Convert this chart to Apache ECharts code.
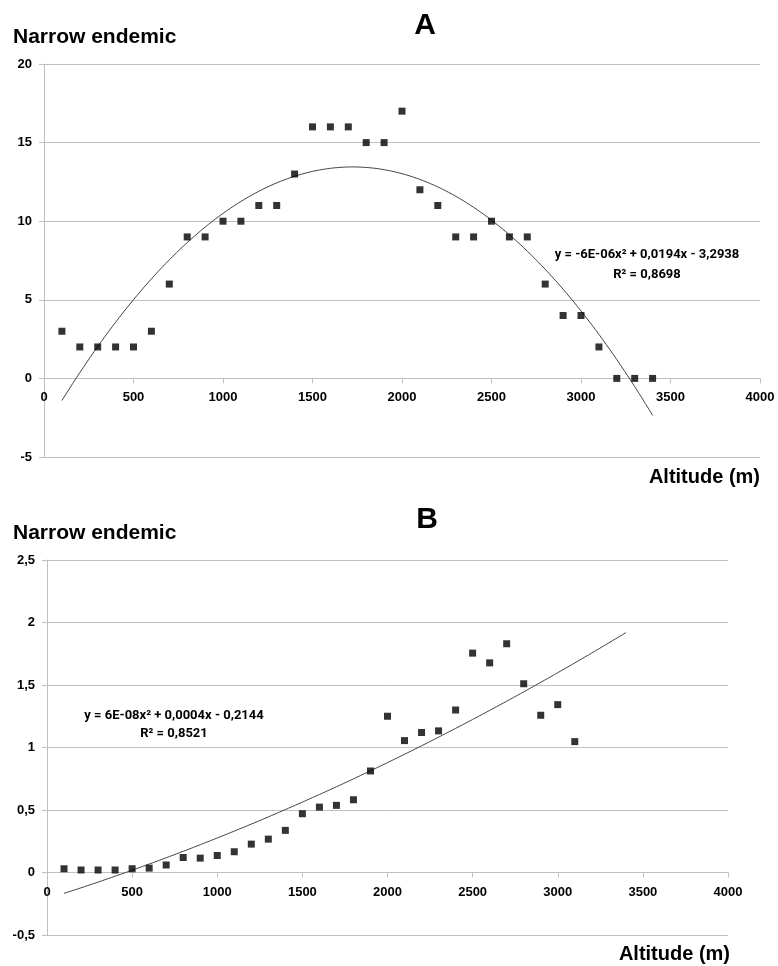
<!DOCTYPE html>
<html>
<head>
<meta charset="utf-8">
<script src="https://cdn.jsdelivr.net/npm/echarts@6/dist/echarts.min.js"></script>
<style>
html,body{margin:0;padding:0;background:#fff;}
#chart{width:778px;height:966px;}
</style>
</head>
<body>
<div id="chart"></div>
<script>
// ---- data ----
const altitudeA = [100,200,300,400,500,600,700,800,900,1000,1100,1200,1300,1400,1500,1600,1700,1800,1900,2000,2100,2200,2300,2400,2500,2600,2700,2800,2900,3000,3100,3200,3300,3400];
const endemicA  = [3,2,2,2,2,3,6,9,9,10,10,11,11,13,16,16,16,15,15,17,12,11,9,9,10,9,9,6,4,4,2,0,0,0];
const altitudeB = [100,200,300,400,500,600,700,800,900,1000,1100,1200,1300,1400,1500,1600,1700,1800,1900,2000,2100,2200,2300,2400,2500,2600,2700,2800,2900,3000,3100];
const endemicB  = [0.03,0.02,0.02,0.02,0.03,0.035,0.06,0.12,0.115,0.136,0.166,0.227,0.267,0.337,0.47,0.523,0.537,0.582,0.812,1.25,1.055,1.12,1.133,1.30,1.755,1.677,1.83,1.51,1.258,1.343,1.047];
const trendRangeA = [100, 3400];
const trendRangeB = [100, 3400];
const equationA = ['y = -6E-06x² + 0,0194x - 3,2938', 'R² = 0,8698'];
const equationB = ['y = 6E-08x² + 0,0004x - 0,2144', 'R² = 0,8521'];
const yAxisA = {min: -5, max: 20, interval: 5};
const yAxisB = {min: -0.5, max: 2.5, interval: 0.5};
const xAxisRange = {min: 0, max: 4000, interval: 500};

// least-squares quadratic fit (polynomial trendline, as in the spreadsheet)
function polyfit2(xs, ys) {
  let s = [0,0,0,0,0], t = [0,0,0];
  for (let i = 0; i < xs.length; i++) {
    const x = xs[i], y = ys[i];
    let p = 1;
    for (let k = 0; k < 5; k++) { s[k] += p; p *= x; }
    t[0] += y; t[1] += y * x; t[2] += y * x * x;
  }
  const M = [[s[0],s[1],s[2],t[0]],[s[1],s[2],s[3],t[1]],[s[2],s[3],s[4],t[2]]];
  for (let i = 0; i < 3; i++) {
    for (let j = i + 1; j < 3; j++) {
      const f = M[j][i] / M[i][i];
      for (let k = i; k < 4; k++) M[j][k] -= f * M[i][k];
    }
  }
  const r = [0,0,0];
  for (let i = 2; i >= 0; i--) {
    let v = M[i][3];
    for (let k = i + 1; k < 3; k++) v -= M[i][k] * r[k];
    r[i] = v / M[i][i];
  }
  return {c: r[0], b: r[1], a: r[2]};
}
function trendLine(xs, ys, range) {
  const f = polyfit2(xs, ys);
  const pts = [];
  for (let x = range[0]; x <= range[1]; x += 20) pts.push([x, f.a * x * x + f.b * x + f.c]);
  return pts;
}
const zip = (xs, ys) => xs.map((x, i) => [x, ys[i]]);

const GREY = '#c0c0c0';
const tickFont = {color: '#000', fontWeight: 'bold', fontSize: 13, fontFamily: "'Liberation Sans', Arial, sans-serif"};
const comma = v => String(v).replace('.', ',');

const grids = [
  {left: 44, top: 64, width: 716, height: 393},
  {left: 47, top: 560, width: 681, height: 375}
];

// x axis drawn at the y = 0 line of its grid
function xAx(gi, yr) {
  const zeroOffset = -grids[gi].height * (0 - yr.min) / (yr.max - yr.min);
  return {
    type: 'value', gridIndex: gi, min: xAxisRange.min, max: xAxisRange.max, interval: xAxisRange.interval,
    position: 'bottom', offset: zeroOffset,
    axisLine: {show: true, onZero: false, lineStyle: {color: GREY, width: 1}},
    axisTick: {show: true, length: 5, lineStyle: {color: GREY}},
    axisLabel: Object.assign({margin: 13, formatter: v => String(v), showMinLabel: true, showMaxLabel: true}, tickFont),
    splitLine: {show: false}
  };
}
function yAx(gi, r) {
  return {
    type: 'value', gridIndex: gi, min: r.min, max: r.max, interval: r.interval,
    axisLine: {show: true, onZero: false, lineStyle: {color: GREY, width: 1}},
    axisTick: {show: true, length: 5, lineStyle: {color: GREY}},
    axisLabel: Object.assign({margin: 12, formatter: comma, showMinLabel: true, showMaxLabel: true}, tickFont),
    splitLine: {show: true, lineStyle: {color: GREY, width: 1}}
  };
}

const boldSans = "'Liberation Sans', Arial, sans-serif";
const eqFont = "Roboto, 'Liberation Sans', sans-serif";
function txt(text, x, y, font, align) {
  return {type: 'text', x: x, y: y, style: {text: text, font: font, fill: '#000', textAlign: align || 'left', textVerticalAlign: 'middle'}, z: 100};
}

const chart = echarts.init(document.getElementById('chart'), null, {renderer: 'canvas'});
chart.setOption({
  animation: false,
  backgroundColor: '#fff',
  grid: grids.map(g => Object.assign({containLabel: false}, g)),
  xAxis: [xAx(0, yAxisA), xAx(1, yAxisB)],
  yAxis: [yAx(0, yAxisA), yAx(1, yAxisB)],
  series: [
    {type: 'line', xAxisIndex: 0, yAxisIndex: 0, data: trendLine(altitudeA, endemicA, trendRangeA),
     showSymbol: false, lineStyle: {color: '#444', width: 1}, z: 2, silent: true},
    {type: 'scatter', xAxisIndex: 0, yAxisIndex: 0, data: zip(altitudeA, endemicA),
     symbol: 'rect', symbolSize: 7, itemStyle: {color: '#000'}, z: 3},
    {type: 'line', xAxisIndex: 1, yAxisIndex: 1, data: trendLine(altitudeB, endemicB, trendRangeB),
     showSymbol: false, lineStyle: {color: '#444', width: 1}, z: 2, silent: true},
    {type: 'scatter', xAxisIndex: 1, yAxisIndex: 1, data: zip(altitudeB, endemicB),
     symbol: 'rect', symbolSize: 7, itemStyle: {color: '#000'}, z: 3}
  ],
  graphic: [
    txt('A', 425, 26, 'bold 30px ' + boldSans, 'center'),
    txt('Narrow endemic', 13, 37, 'bold 21px ' + boldSans, 'left'),
    txt('Altitude (m)', 760, 477, 'bold 20px ' + boldSans, 'right'),
    txt(equationA[0], 647, 255, 'bold 13px ' + eqFont, 'center'),
    txt(equationA[1], 647, 275, 'bold 13px ' + eqFont, 'center'),
    txt('B', 427, 520, 'bold 30px ' + boldSans, 'center'),
    txt('Narrow endemic', 13, 533, 'bold 21px ' + boldSans, 'left'),
    txt('Altitude (m)', 730, 954, 'bold 20px ' + boldSans, 'right'),
    txt(equationB[0], 174, 716, 'bold 13px ' + eqFont, 'center'),
    txt(equationB[1], 174, 734, 'bold 13px ' + eqFont, 'center')
  ]
});
</script>
</body>
</html>
